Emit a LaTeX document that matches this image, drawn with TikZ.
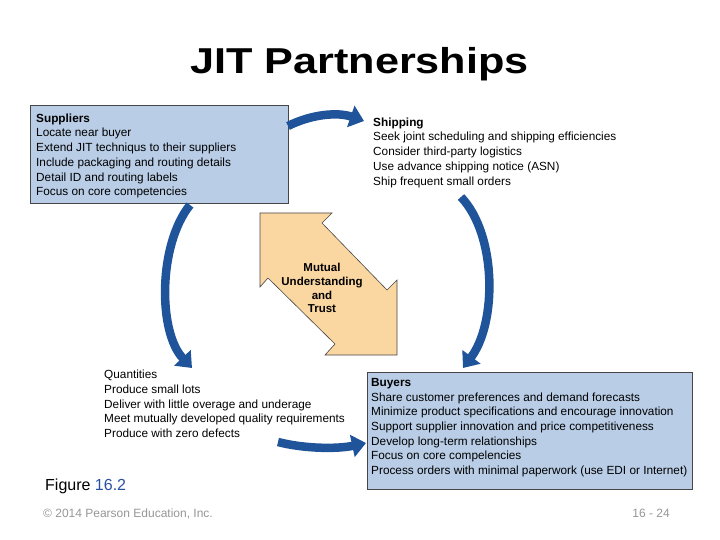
\documentclass[tikz,border=0pt]{standalone}
\usepackage{fontspec}
\setmainfont{Liberation Sans}
\usetikzlibrary{arrows.meta,positioning}

\definecolor{boxblue}{RGB}{185,205,230}
\definecolor{flowblue}{RGB}{31,84,154}
\definecolor{trusttan}{RGB}{250,214,160}
\definecolor{edgegray}{RGB}{70,70,70}
\definecolor{footgray}{RGB}{150,150,150}
\definecolor{figblue}{RGB}{40,80,160}

\begin{document}
\begin{tikzpicture}[x=1pt,y=-1pt,
    partbox/.style={draw=edgegray, fill=boxblue, line width=0.6pt, inner sep=0pt, anchor=north west},
    parttext/.style={anchor=north west, align=left, inner sep=0pt, font=\fontsize{11.8}{14.7}\selectfont},
    flow/.style={draw=flowblue, line width=8.5pt, -{Triangle[length=14pt,width=22pt]}}]
    \useasboundingbox (0,0) rectangle (720,540);

    % title
    \node [anchor=base, inner sep=0pt, xscale=1.2, font=\bfseries\fontsize{36}{40}\selectfont] (title) at (359.5,73.5) {JIT Partnerships};

    % suppliers
    \node [partbox, minimum width=258pt, minimum height=98pt] (supbox) at (30,105) {};
    \node [parttext] (suppliers) at (36,113.5) {\textbf{Suppliers}\\Locate near buyer\\Extend JIT techniqus to their suppliers\\Include packaging and routing details\\Detail ID and routing labels\\Focus on core competencies};

    % shipping
    \node [parttext] (shipping) at (373,117.5) {\textbf{Shipping}\\Seek joint scheduling and shipping efficiencies\\Consider third-party logistics\\Use advance shipping notice (ASN)\\Ship frequent small orders};

    % quantities
    \node [parttext] (quantities) at (104,370) {Quantities\\Produce small lots\\Deliver with little overage and underage\\Meet mutually developed quality requirements\\Produce with zero defects};

    % buyers
    \node [partbox, minimum width=325pt, minimum height=117pt] (buybox) at (366.5,371.5) {};
    \node [parttext] (buyers) at (371,378) {\textbf{Buyers}\\Share customer preferences and demand forecasts\\Minimize product specifications and encourage innovation\\Support supplier innovation and price competitiveness\\Develop long-term relationships\\Focus on core compelencies\\Process orders with minimal paperwork (use EDI or Internet)};

    % mutual trust arrow
    \draw [draw=edgegray, fill=trusttan, line width=0.6pt, line join=miter]
        (260,213) -- (332,213) -- (322,223) -- (387,290) -- (397,280) -- (397,355)
        -- (325,355) -- (335,344) -- (268,278) -- (260,287) -- cycle;
    \node [align=center, inner sep=0pt, font=\bfseries\fontsize{11.5}{13.9}\selectfont] (trust) at (322,288) {Mutual\\Understanding\\and\\Trust};

    % flow arrows
    \coordinate (supout) at (288,126);
    \coordinate (shipin) at (364,121);
    \coordinate (shipout) at (461,197);
    \coordinate (buyin) at (463,368);
    \coordinate (qtyout) at (278,442);
    \coordinate (buyleft) at (366,443);
    \coordinate (supdown) at (190,205);
    \coordinate (qtyin) at (192,368);
    \draw [flow] (supout) .. controls (312,114) and (338,112) .. (shipin);
    \draw [flow] (shipout) .. controls (497,235) and (497,323) .. (buyin);
    \draw [flow] (qtyout) .. controls (305,449) and (338,449) .. (buyleft);
    \draw [flow] (supdown) .. controls (158,245) and (158,332) .. (qtyin);

    % footer
    \node [anchor=base west, inner sep=0pt, font=\fontsize{16}{18}\selectfont] (figure) at (45,490) {Figure \textcolor{figblue}{16.2}};
    \node [anchor=base west, inner sep=0pt, text=footgray, font=\fontsize{12}{14}\selectfont] (copyright) at (43,517.3) {\textcopyright{} 2014 Pearson Education, Inc.};
    \node [anchor=base east, inner sep=0pt, text=footgray, font=\fontsize{12}{14}\selectfont] (pagenum) at (670,517.3) {16 - 24};
\end{tikzpicture}
\end{document}
